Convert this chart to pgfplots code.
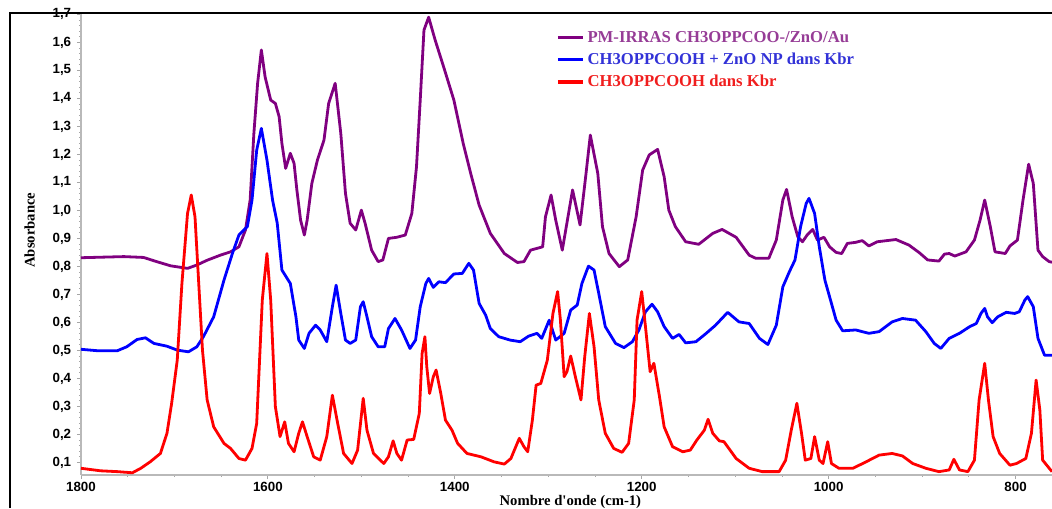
\documentclass[border=0pt]{standalone}
\usepackage{pgfplots}
\pgfplotsset{compat=1.18}
\usepackage{fontspec}
\setmainfont{Liberation Serif}
\newfontfamily\sansb{Liberation Sans}
\definecolor{cpur}{RGB}{128,0,128}
\definecolor{cblu}{RGB}{0,0,255}
\definecolor{cred}{RGB}{255,0,0}
\definecolor{tpur}{RGB}{150,60,150}
\definecolor{tblu}{RGB}{50,50,215}
\definecolor{tred}{RGB}{240,30,30}
\begin{document}
\begin{tikzpicture}
\begin{axis}[
  at={(0,0)}, anchor=south west,
  scale only axis, width=728.25pt, height=346.5pt,
  x dir=reverse, xmin=761, xmax=1800, ymin=0.055, ymax=1.705,
  axis lines*=left,
  axis line style={gray!55, line width=1.4pt},
  xtick={800,1000,1200,1400,1600,1800},
  minor xtick={750,850,900,950,1050,1100,1150,1250,1300,1350,1450,1500,1550,1650,1700,1750},
  ytick={0.1,0.2,...,1.75},
  minor y tick num=4,
  tick style={gray!70, line width=0.6pt},
  major tick length=3pt, minor tick length=1.5pt,
  tick align=outside,
  /pgf/number format/assume math mode=true,
  yticklabel style={/pgf/number format/.cd, fixed, fixed zerofill, precision=1, use comma},
  xticklabel style={yshift=2pt, /pgf/number format/1000 sep={}},
  tick label style={font=\sansb\bfseries\fontsize{10}{11}\selectfont},
  xlabel={\textbf{Nombre d\textquotesingle onde (cm-1)}},
  xlabel style={font=\fontsize{11}{12}\selectfont, at={(axis description cs:0.504,-0.058)}, anchor=center},
  ylabel={\textbf{Absorbance}},
  ylabel style={font=\fontsize{11}{12}\selectfont, at={(axis description cs:-0.053,0.53)}, anchor=center, rotate=0},
  legend style={at={(0.484,0.975)}, anchor=north west, draw=none, fill=none,
    font=\bfseries\fontsize{12.5}{14}\selectfont, row sep=2.5pt, cells={anchor=west}},
  legend image code/.code={\draw[#1, line width=2.4pt] (0pt,0pt) -- (19pt,0pt);},
  line width=2.1pt, line join=round,
]
\addplot[cpur] coordinates {(1800,0.831)(1754,0.835)(1733,0.832)(1719,0.817)(1704,0.802)(1686,0.793)(1676,0.805)(1665,0.822)(1651,0.840)(1640,0.852)(1631,0.870)(1624,0.930)(1619,1.037)(1615,1.275)(1611,1.454)(1607,1.573)(1603,1.477)(1597,1.394)(1592,1.382)(1588,1.335)(1585,1.239)(1581,1.150)(1576,1.204)(1572,1.168)(1569,1.073)(1565,0.965)(1561,0.912)(1558,0.965)(1553,1.096)(1547,1.180)(1540,1.251)(1535,1.382)(1528,1.454)(1522,1.275)(1517,1.061)(1512,0.954)(1506,0.930)(1500,1.001)(1496,0.954)(1489,0.858)(1482,0.817)(1477,0.823)(1471,0.900)(1462,0.904)(1453,0.912)(1446,0.989)(1441,1.156)(1437,1.394)(1433,1.644)(1428,1.690)(1421,1.608)(1412,1.513)(1401,1.394)(1391,1.239)(1383,1.132)(1374,1.019)(1362,0.918)(1347,0.846)(1333,0.814)(1326,0.817)(1319,0.858)(1306,0.870)(1303,0.977)(1297,1.055)(1292,0.965)(1285,0.858)(1274,1.073)(1266,0.948)(1260,1.120)(1255,1.269)(1247,1.132)(1242,0.942)(1235,0.846)(1224,0.799)(1215,0.823)(1206,0.977)(1199,1.144)(1192,1.198)(1183,1.218)(1176,1.120)(1171,1.001)(1164,0.942)(1153,0.888)(1139,0.879)(1124,0.918)(1114,0.932)(1099,0.904)(1085,0.840)(1078,0.829)(1064,0.829)(1056,0.894)(1049,1.037)(1045,1.075)(1039,0.977)(1033,0.906)(1028,0.888)(1023,0.912)(1017,0.932)(1012,0.894)(1005,0.904)(999,0.870)(992,0.850)(986,0.846)(980,0.882)(971,0.886)(964,0.892)(957,0.873)(948,0.888)(928,0.896)(914,0.876)(903,0.849)(894,0.823)(882,0.819)(876,0.844)(871,0.846)(865,0.837)(853,0.852)(844,0.894)(838,0.965)(833,1.037)(827,0.942)(822,0.852)(811,0.846)(806,0.873)(798,0.894)(792,1.037)(786,1.165)(781,1.096)(776,0.858)(771,0.835)(764,0.817)(761,0.815)};
\addlegendentry{\textcolor{tpur}{PM-IRRAS CH3OPPCOO-/ZnO/Au}}
\addplot[cblu] coordinates {(1800,0.504)(1783,0.499)(1761,0.499)(1751,0.513)(1740,0.539)(1731,0.545)(1722,0.525)(1708,0.515)(1697,0.501)(1685,0.495)(1676,0.513)(1669,0.549)(1658,0.620)(1647,0.751)(1638,0.846)(1631,0.912)(1622,0.942)(1617,1.037)(1612,1.215)(1607,1.293)(1601,1.180)(1595,1.037)(1590,0.954)(1585,0.787)(1576,0.739)(1570,0.620)(1567,0.537)(1561,0.507)(1556,0.561)(1549,0.590)(1544,0.573)(1537,0.531)(1531,0.656)(1527,0.733)(1522,0.632)(1517,0.537)(1512,0.525)(1506,0.537)(1501,0.656)(1498,0.674)(1494,0.620)(1489,0.549)(1482,0.513)(1475,0.513)(1471,0.578)(1464,0.614)(1457,0.573)(1448,0.507)(1442,0.537)(1437,0.656)(1431,0.739)(1428,0.757)(1423,0.725)(1417,0.745)(1410,0.742)(1401,0.773)(1392,0.775)(1385,0.811)(1380,0.787)(1374,0.668)(1367,0.626)(1362,0.578)(1353,0.549)(1341,0.537)(1330,0.531)(1321,0.551)(1312,0.561)(1307,0.543)(1299,0.608)(1292,0.537)(1283,0.561)(1276,0.644)(1269,0.662)(1264,0.739)(1257,0.801)(1251,0.787)(1246,0.704)(1239,0.585)(1228,0.525)(1219,0.510)(1210,0.531)(1203,0.573)(1196,0.638)(1189,0.665)(1183,0.638)(1176,0.585)(1167,0.543)(1160,0.557)(1153,0.527)(1142,0.531)(1131,0.561)(1121,0.590)(1108,0.636)(1096,0.602)(1085,0.596)(1074,0.543)(1065,0.521)(1056,0.590)(1049,0.727)(1042,0.781)(1036,0.823)(1030,0.942)(1024,1.025)(1021,1.043)(1015,0.989)(1010,0.870)(1004,0.751)(997,0.668)(992,0.608)(985,0.570)(971,0.573)(957,0.561)(946,0.567)(932,0.602)(921,0.614)(907,0.608)(896,0.567)(887,0.525)(880,0.507)(871,0.543)(860,0.561)(849,0.585)(842,0.596)(837,0.632)(833,0.650)(830,0.620)(825,0.599)(819,0.620)(810,0.636)(801,0.632)(796,0.638)(790,0.680)(787,0.692)(781,0.656)(776,0.543)(769,0.483)(761,0.483)};
\addlegendentry{\textcolor{tblu}{CH3OPPCOOH + ZnO NP dans Kbr}}
\addplot[cred] coordinates {(1800,0.079)(1779,0.070)(1761,0.067)(1745,0.063)(1736,0.079)(1726,0.102)(1715,0.132)(1708,0.204)(1703,0.311)(1697,0.465)(1692,0.739)(1686,0.989)(1682,1.055)(1678,0.977)(1674,0.739)(1670,0.501)(1665,0.323)(1658,0.227)(1647,0.168)(1640,0.150)(1631,0.114)(1624,0.108)(1617,0.150)(1612,0.239)(1606,0.680)(1601,0.846)(1597,0.680)(1592,0.299)(1587,0.192)(1582,0.245)(1578,0.168)(1572,0.138)(1567,0.204)(1563,0.245)(1558,0.192)(1551,0.120)(1544,0.108)(1537,0.192)(1531,0.340)(1526,0.251)(1519,0.132)(1510,0.096)(1504,0.144)(1498,0.329)(1494,0.215)(1487,0.132)(1476,0.096)(1471,0.120)(1466,0.177)(1462,0.132)(1457,0.108)(1451,0.180)(1444,0.182)(1438,0.275)(1435,0.489)(1432,0.549)(1430,0.442)(1427,0.346)(1423,0.406)(1420,0.430)(1415,0.346)(1410,0.251)(1403,0.215)(1397,0.168)(1387,0.132)(1372,0.120)(1358,0.102)(1347,0.094)(1340,0.114)(1331,0.186)(1326,0.156)(1322,0.138)(1317,0.251)(1313,0.376)(1308,0.382)(1301,0.465)(1295,0.632)(1290,0.710)(1287,0.608)(1283,0.406)(1280,0.424)(1276,0.480)(1271,0.406)(1265,0.323)(1261,0.477)(1256,0.632)(1251,0.513)(1246,0.323)(1239,0.204)(1230,0.150)(1221,0.136)(1214,0.168)(1208,0.323)(1205,0.608)(1200,0.710)(1196,0.585)(1191,0.424)(1187,0.454)(1181,0.335)(1176,0.227)(1167,0.156)(1156,0.138)(1148,0.144)(1141,0.180)(1133,0.215)(1129,0.254)(1124,0.204)(1117,0.177)(1112,0.174)(1099,0.114)(1085,0.079)(1071,0.067)(1053,0.067)(1046,0.108)(1040,0.215)(1034,0.311)(1029,0.204)(1025,0.108)(1019,0.114)(1015,0.192)(1010,0.108)(1006,0.096)(1001,0.174)(997,0.096)(989,0.079)(974,0.079)(960,0.102)(946,0.126)(932,0.132)(921,0.123)(910,0.096)(896,0.079)(882,0.067)(871,0.073)(866,0.111)(860,0.073)(851,0.067)(844,0.108)(839,0.323)(833,0.454)(829,0.323)(824,0.192)(817,0.132)(806,0.090)(799,0.096)(789,0.114)(783,0.204)(778,0.394)(774,0.287)(771,0.108)(761,0.067)};
\addlegendentry{\textcolor{tred}{CH3OPPCOOH dans Kbr}}
\end{axis}
\draw[line width=2.2pt] (-53.25pt,-24.75pt) -- (-53.25pt,346.5pt) -- (728.25pt,346.5pt);
\pgfresetboundingbox
\useasboundingbox (-60.75pt,-24.75pt) rectangle (728.25pt,356.25pt);
\end{tikzpicture}
\end{document}
